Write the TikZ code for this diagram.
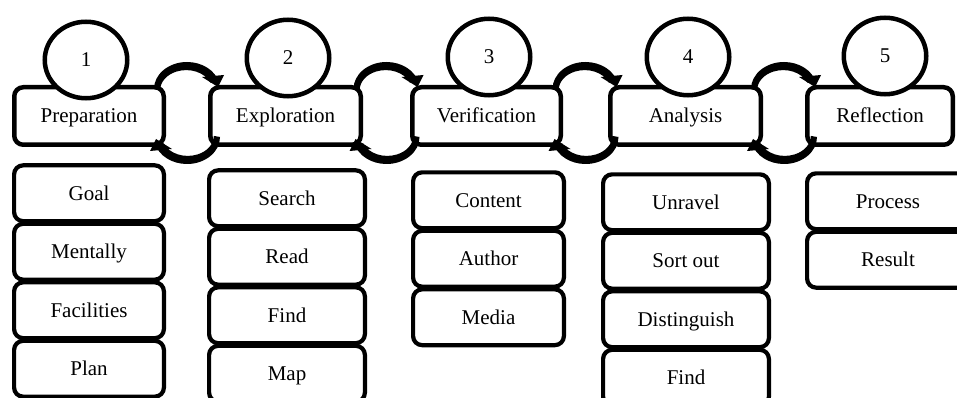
\documentclass[tikz,border=0pt]{standalone}
\usepackage{fontspec}
\setmainfont{Liberation Serif}
\usetikzlibrary{shapes.geometric,calc}

% one half of the curved double arrow between two stages:
% a tapered arc over the gap and its triangular head
\newcommand\linkhalf{%
  \fill (-33,-24) arc[start angle=180,end angle=345,x radius=33,y radius=27]
    -- (23.3,-30.4) arc[start angle=338,end angle=180,x radius=26,y radius=20] -- cycle;
  \fill (15,-36) -- (37,-38) -- (31,-26) -- cycle;}

\begin{document}
\begin{tikzpicture}[x=1pt,y=-1pt,
  every node/.style={font=\fontsize{21}{25}\selectfont, text height=14pt, text depth=0pt},
  stage/.style={draw, line width=4.5pt, rounded corners=9pt, minimum height=57.5pt, inner sep=0pt},
  item/.style={draw, line width=4.2pt, rounded corners=9pt, minimum height=55.8pt, inner sep=0pt},
  badge/.style={draw, ellipse, fill=white, line width=4.5pt, minimum width=82.5pt, minimum height=76.5pt, inner sep=0pt},
  link/.pic={\linkhalf\begin{scope}[rotate=180]\linkhalf\end{scope}}
]
\useasboundingbox (0,0) rectangle (957,398);
\clip (0,0) rectangle (957,398);

% stage headers
\node[stage, minimum width=149.5pt] (prep)  at (89,116)    {Preparation};
\node[stage, minimum width=150.5pt] (expl)  at (285.5,116) {Exploration};
\node[stage, minimum width=148.5pt] (verif) at (486.5,116) {Verification};
\node[stage, minimum width=150.5pt] (anal)  at (685.5,116) {Analysis};
\node[stage, minimum width=145.5pt] (refl)  at (880,116)   {Reflection};

% items of each stage
\begin{scope}[every node/.append style={item}]
\node[minimum width=149.8pt] (p1) at (89,193.25)  {Goal};
\node[minimum width=149.8pt] (p2) at (89,251.75)  {Mentally};
\node[minimum width=149.8pt] (p3) at (89,310.25)  {Facilities};
\node[minimum width=149.8pt] (p4) at (89,368.75)  {Plan};

\node[minimum width=155.8pt] (e1) at (287,198.25) {Search};
\node[minimum width=155.8pt] (e2) at (287,256.75) {Read};
\node[minimum width=155.8pt] (e3) at (287,315.25) {Find};
\node[minimum width=155.8pt] (e4) at (287,373.75) {Map};

\node[minimum width=150.8pt] (v1) at (488.5,200.25) {Content};
\node[minimum width=150.8pt] (v2) at (488.5,258.75) {Author};
\node[minimum width=150.8pt] (v3) at (488.5,317.25) {Media};

\node[minimum width=165.8pt] (a1) at (686,202.25) {Unravel};
\node[minimum width=165.8pt] (a2) at (686,260.75) {Sort out};
\node[minimum width=165.8pt] (a3) at (686,319.25) {Distinguish};
\node[minimum width=165.8pt] (a4) at (686,377.75) {Find};

\node[minimum width=161.8pt] (r1) at (888,201.25) {Process};
\node[minimum width=161.8pt] (r2) at (888,259.75) {Result};
\end{scope}

% curved arrows between neighbouring stages
\pic at ($(prep.east)!0.5!(expl.west)+(0,-3)$) {link};
\pic at ($(expl.east)!0.5!(verif.west)+(0,-3)$) {link};
\pic at ($(verif.east)!0.5!(anal.west)+(0,-3)$) {link};
\pic at ($(anal.east)!0.5!(refl.west)+(0,-3)$) {link};

% numbered badges
\node[badge] (n1) at (86,60)  {1};
\node[badge] (n2) at (288,58) {2};
\node[badge] (n3) at (489,57) {3};
\node[badge] (n4) at (688,57) {4};
\node[badge] (n5) at (885,56) {5};
\end{tikzpicture}
\end{document}
